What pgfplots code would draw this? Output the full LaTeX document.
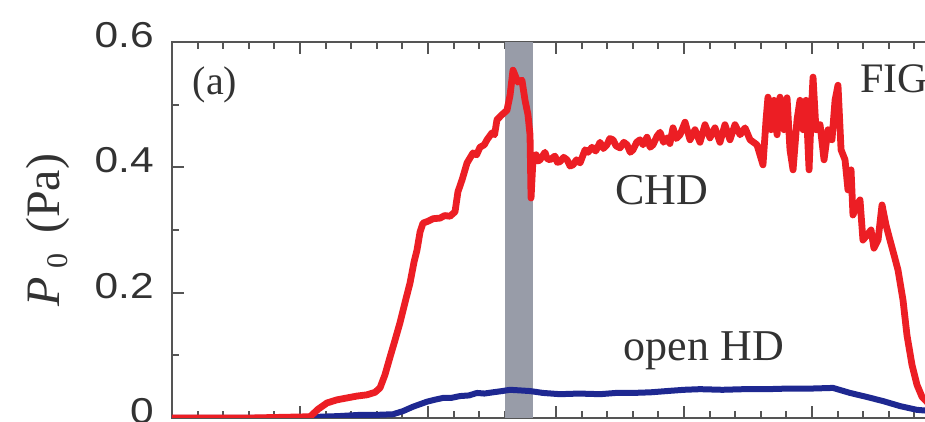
\documentclass[border=0pt]{standalone}
\usepackage{fontspec}
\setmainfont{Liberation Serif}
\newfontfamily\arialf{Liberation Sans}
\usepackage{pgfplots}
\pgfplotsset{compat=1.18}
\definecolor{chdred}{RGB}{236,30,36}
\definecolor{hdblue}{RGB}{30,40,145}
\definecolor{bandgray}{RGB}{152,156,168}
\definecolor{axgray}{RGB}{85,85,85}
\definecolor{txtgray}{RGB}{50,50,50}
\begin{document}
\begin{tikzpicture}
\begin{axis}[
  at={(0,0)}, anchor=south west,
  scale only axis, width=448pt, height=188pt,
  xmin=0, xmax=7, ymin=0, ymax=0.6,
  axis line style={axgray, line width=1pt},
  xtick={0,1,...,7}, minor x tick num=4,
  ytick={0,0.2,0.4,0.6}, minor y tick num=1,
  xticklabels={},
  tick align=inside,
  major tick length=6pt, minor tick length=3.5pt,
  every tick/.style={axgray, line width=1pt},
  tick style={axgray, line width=1pt},
  /pgf/number format/assume math mode=true,
  yticklabel style={font=\arialf\fontsize{18}{18}\selectfont, text=txtgray, anchor=east, xshift=-5pt, yshift=3.5pt, xscale=1.18},
  yticklabel={\pgfmathprintnumber[fixed,precision=1]{\tick}},
  ylabel={\textit{P}\,\raisebox{-0.35ex}{\fontsize{15}{15}\selectfont 0}\, (Pa)},
  every axis y label/.style={at={(axis description cs:-0.138,0.5)}, rotate=90, anchor=center, font=\fontsize{24}{24}\selectfont, text=txtgray},
  clip=true,
]
% gray band
\addplot[draw=none, fill=bandgray] coordinates {(2.602,0) (2.602,0.6) (2.820,0.6) (2.820,0)} -- cycle;
% open HD (blue)
\addplot[hdblue, line width=3pt, line join=round] coordinates {
(0,0) (1.078,0) (1.156,0.002) (1.30,0.003) (1.469,0.005) (1.60,0.005) (1.727,0.006) (1.805,0.011) (1.883,0.018)
(1.992,0.026) (2.05,0.029) (2.117,0.032) (2.18,0.032) (2.25,0.035) (2.32,0.036) (2.383,0.040) (2.44,0.039) (2.508,0.041)
(2.58,0.043) (2.641,0.045) (2.72,0.044) (2.797,0.043) (2.898,0.040) (3.031,0.038) (3.18,0.039) (3.344,0.038)
(3.47,0.040) (3.602,0.040) (3.74,0.041) (3.867,0.043) (4.0,0.045) (4.125,0.046) (4.30,0.045) (4.47,0.046)
(4.648,0.046) (4.82,0.047) (5.0,0.047) (5.164,0.048) (5.297,0.040) (5.42,0.034) (5.555,0.027) (5.688,0.019)
(5.820,0.013) (6.0,0.010) (6.3,0.008)
};
% CHD (red)
\addplot[chdred, line width=3.4pt, line join=round] coordinates {
(0,0) (0.609,0) (1.078,0.002) (1.141,0.014) (1.211,0.024) (1.289,0.029) (1.367,0.032) (1.445,0.035)
(1.523,0.037) (1.586,0.041) (1.625,0.048) (1.664,0.069) (1.703,0.097) (1.742,0.124) (1.781,0.152)
(1.820,0.184) (1.859,0.215) (1.891,0.249) (1.914,0.268) (1.938,0.297) (1.961,0.311) (2.0,0.314)
(2.039,0.318) (2.094,0.319) (2.13,0.323) (2.172,0.322) (2.211,0.329) (2.234,0.361) (2.266,0.380) (2.305,0.407)
(2.352,0.423) (2.38,0.420) (2.406,0.432) (2.44,0.436) (2.461,0.444) (2.5,0.455) (2.52,0.452) (2.539,0.476) (2.578,0.484) (2.617,0.491)
(2.641,0.515) (2.664,0.555) (2.688,0.543) (2.703,0.536) (2.734,0.539) (2.758,0.507) (2.781,0.484)
(2.797,0.452) (2.805,0.351) (2.820,0.412) (2.844,0.420) (2.86,0.410) (2.875,0.412) (2.914,0.424) (2.93,0.414) (2.953,0.412)
(2.992,0.418) (3.01,0.408) (3.031,0.409) (3.06,0.416) (3.086,0.412) (3.11,0.402) (3.133,0.404) (3.16,0.412) (3.188,0.407) (3.227,0.428) (3.25,0.424) (3.281,0.432)
(3.31,0.426) (3.344,0.440) (3.37,0.430) (3.398,0.436) (3.42,0.446) (3.445,0.444) (3.47,0.434) (3.5,0.431) (3.53,0.440) (3.555,0.436) (3.58,0.424) (3.602,0.428) (3.63,0.440) (3.656,0.444)
(3.68,0.436) (3.711,0.448) (3.735,0.432) (3.758,0.436) (3.79,0.450) (3.813,0.456) (3.84,0.440) (3.867,0.447) (3.89,0.438) (3.914,0.463) (3.94,0.446) (3.969,0.452) (4.008,0.472)
(4.047,0.444) (4.086,0.460) (4.125,0.440) (4.164,0.468) (4.203,0.447) (4.242,0.463) (4.281,0.440)
(4.320,0.468) (4.359,0.444) (4.398,0.468) (4.438,0.452) (4.477,0.463) (4.516,0.444) (4.570,0.436)
(4.617,0.404) (4.641,0.476) (4.656,0.512) (4.680,0.460) (4.703,0.507) (4.727,0.452) (4.750,0.512)
(4.781,0.460) (4.805,0.511) (4.828,0.428) (4.852,0.396) (4.883,0.476) (4.906,0.507) (4.930,0.460)
(4.953,0.507) (4.977,0.396) (4.992,0.476) (5.008,0.544) (5.031,0.460) (5.063,0.468) (5.094,0.412)
(5.125,0.460) (5.156,0.444) (5.180,0.507) (5.203,0.531) (5.227,0.428) (5.258,0.412) (5.281,0.364)
(5.305,0.396) (5.320,0.324) (5.352,0.340) (5.375,0.348) (5.398,0.284) (5.430,0.292) (5.461,0.300)
(5.484,0.271) (5.516,0.284) (5.547,0.340) (5.578,0.308) (5.609,0.284) (5.641,0.260) (5.672,0.236)
(5.711,0.188) (5.742,0.132) (5.781,0.085) (5.820,0.053) (5.859,0.034) (5.906,0.024) (6.0,0.016) (6.3,0.010)
};
\node[text=txtgray, font=\fontsize{20}{20}\selectfont] at (axis cs:0.336,0.531) {(a)};
\node[text=txtgray, font=\fontsize{22}{22}\selectfont] at (axis cs:3.828,0.364) {CHD};
\node[text=txtgray, font=\fontsize{22}{22}\selectfont] at (axis cs:4.156,0.107) {open HD};
\node[text=txtgray, font=\fontsize{21}{21}\selectfont, anchor=west, inner sep=0pt] at (axis cs:5.375,0.541) {FIG};
\end{axis}
\pgfresetboundingbox
\useasboundingbox (-86pt,-2pt) rectangle (376.5pt,209pt);
\end{tikzpicture}
\end{document}
